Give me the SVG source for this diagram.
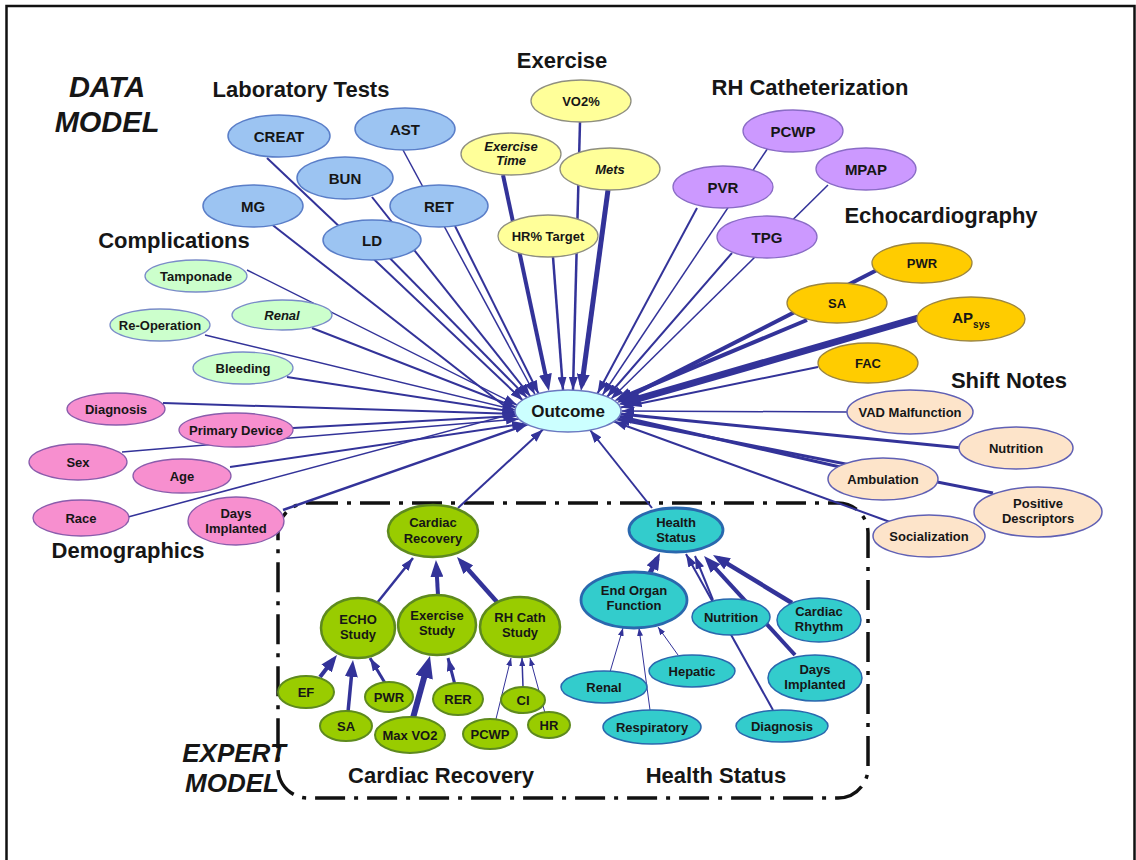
<svg xmlns="http://www.w3.org/2000/svg" width="1136" height="860" viewBox="0 0 1136 860">
<style>
  text { font-family: "Liberation Sans", Arial, sans-serif; font-weight: bold; fill: #161616; text-anchor: middle; }
  .head { font-size: 22px; }
  .big { font-size: 29px; font-style: italic; }
  .exp { font-size: 26px; font-style: italic; }
  .s13 { font-size: 13px; }
  .s15 { font-size: 15px; }
  .it { font-style: italic; }
  .c { fill: none; stroke: #333399; stroke-linecap: butt; }
  .lab ellipse { fill: #9cc4f2; stroke: #5a7ec8; stroke-width: 1.5; }
  .ex ellipse { fill: #ffff99; stroke: #8f8f80; stroke-width: 1.3; }
  .rh ellipse { fill: #cc99ff; stroke: #8a6cc6; stroke-width: 1.3; }
  .echo ellipse { fill: #ffcc00; stroke: #9c8640; stroke-width: 1.3; }
  .sn ellipse { fill: #fde4ca; stroke: #6060b4; stroke-width: 1.5; }
  .cx ellipse { fill: #ccffcc; stroke: #7a8cc8; stroke-width: 1.3; }
  .dm ellipse { fill: #f78fcf; stroke: #8a5cac; stroke-width: 1.3; }
  .oc ellipse { fill: #ccffff; stroke: #6a78c0; stroke-width: 1.5; }
  .cr ellipse { fill: #99cc00; stroke: #5e8a1e; stroke-width: 2; }
  .cr.main ellipse { stroke-width: 2.5; }
  .hs ellipse { fill: #33cccc; stroke: #2a68ae; stroke-width: 1.5; }
  .hs.main ellipse { stroke-width: 2.8; }
</style>
<defs>
  <marker id="ah-sm" markerUnits="userSpaceOnUse" markerWidth="8" markerHeight="6" refX="8" refY="3" orient="auto"><path d="M0,0 L8,3 L0,6 z" fill="#333399"/></marker>
  <marker id="ah-md" markerUnits="userSpaceOnUse" markerWidth="13" markerHeight="9" refX="13" refY="4.5" orient="auto"><path d="M0,0 L13,4.5 L0,9 z" fill="#333399"/></marker>
  <marker id="ah-lg" markerUnits="userSpaceOnUse" markerWidth="17" markerHeight="13" refX="11" refY="6.5" orient="auto"><path d="M0,0 L17,6.5 L0,13 z" fill="#333399"/></marker>
  <marker id="ah-xl" markerUnits="userSpaceOnUse" markerWidth="22" markerHeight="18" refX="13" refY="9" orient="auto"><path d="M0,0 L22,9 L0,18 z" fill="#333399"/></marker>
</defs>

<rect x="0" y="0" width="1136" height="860" fill="#ffffff"/>
<!-- page frame (bottom edge runs off the page) -->
<rect x="6.5" y="6" width="1128" height="900" fill="none" stroke="#111" stroke-width="2.5"/>

<!-- headings -->
<g id="titles">
  <text class="big" x="107" y="97">DATA</text>
  <text class="big" x="107" y="132">MODEL</text>
  <text class="head" x="301" y="97">Laboratory Tests</text>
  <text class="head" x="562" y="68">Exercise</text>
  <text class="head" x="810" y="95">RH Catheterization</text>
  <text class="head" x="941" y="223">Echocardiography</text>
  <text class="head" x="174" y="248">Complications</text>
  <text class="head" x="1009" y="388">Shift Notes</text>
  <text class="head" x="128" y="558">Demographics</text>
  <text class="exp" x="234" y="762">EXPERT</text>
  <text class="exp" x="232" y="792">MODEL</text>
  <text class="head" x="441" y="783">Cardiac Recovery</text>
  <text class="head" x="716" y="783">Health Status</text>
</g>

<!-- expert model boundary -->
<path id="expert-box" d="M308,503 H838 A30,30 0 0 1 868,533 V768 A30,30 0 0 1 838,798 H308 A30,30 0 0 1 278,768 V533 A30,30 0 0 1 308,503 Z" fill="none" stroke="#111" stroke-width="3.5" stroke-dasharray="30 9 4 9"/>

<g id="connectors">
  <!-- laboratory -->
  <path class="c" stroke-width="2" marker-end="url(#ah-md)" d="M267,158 L523,400.5"/>
  <path class="c" stroke-width="2" marker-end="url(#ah-md)" d="M270,223 L516,415"/>
  <path class="c" stroke-width="2" marker-end="url(#ah-md)" d="M372,197 L530.5,396.5"/>
  <path class="c" stroke-width="1.5" marker-end="url(#ah-md)" d="M403,150 L535,394.5"/>
  <path class="c" stroke-width="2" marker-end="url(#ah-md)" d="M455,226 L538.5,393.5"/>
  <path class="c" stroke-width="2" marker-end="url(#ah-md)" d="M372,240 L527,397.5"/>
  <!-- exercise -->
  <path class="c" stroke-width="4" marker-end="url(#ah-lg)" d="M503,175 L547.7,385.1"/>
  <path class="c" stroke-width="2.5" marker-end="url(#ah-md)" d="M553,257 L563,390"/>
  <path class="c" stroke-width="2.5" marker-end="url(#ah-md)" d="M580,122 L573,390"/>
  <path class="c" stroke-width="5" marker-end="url(#ah-lg)" d="M608,190 L581.8,385.1"/>
  <!-- RH catheterization -->
  <path class="c" stroke-width="1.5" marker-end="url(#ah-md)" d="M770,145 L602.5,395"/>
  <path class="c" stroke-width="2" marker-end="url(#ah-md)" d="M697,208 L597.5,393.5"/>
  <path class="c" stroke-width="1.5" marker-end="url(#ah-md)" d="M828,185 L611,399"/>
  <path class="c" stroke-width="2" marker-end="url(#ah-md)" d="M732,253 L607,397"/>
  <!-- echocardiography -->
  <path class="c" stroke-width="4" marker-end="url(#ah-lg)" d="M877,270 L622.3,399.9"/>
  <path class="c" stroke-width="4" marker-end="url(#ah-lg)" d="M807,320 L620,398.4"/>
  <path class="c" stroke-width="7" marker-end="url(#ah-xl)" d="M918,318 L627.3,402"/>
  <path class="c" stroke-width="2" marker-end="url(#ah-md)" d="M818,367 L620.5,407.5"/>
  <!-- shift notes -->
  <path class="c" stroke-width="1.5" marker-end="url(#ah-md)" d="M847,412 L621.5,411"/>
  <path class="c" stroke-width="3" marker-end="url(#ah-md)" d="M962,448 L620.5,414"/>
  <path class="c" stroke-width="3" marker-end="url(#ah-md)" d="M840,467 L619.5,416.5"/>
  <path class="c" stroke-width="3" marker-end="url(#ah-md)" d="M993,493 L617,419"/>
  <path class="c" stroke-width="2" marker-end="url(#ah-md)" d="M890,522 L614,421.5"/>
  <!-- complications -->
  <path class="c" stroke-width="1.5" marker-end="url(#ah-md)" d="M247,270 L517,405"/>
  <path class="c" stroke-width="2" marker-end="url(#ah-md)" d="M312,328 L516,407.5"/>
  <path class="c" stroke-width="1.5" marker-end="url(#ah-md)" d="M205,335 L515.3,410"/>
  <path class="c" stroke-width="2" marker-end="url(#ah-md)" d="M287,377 L515.3,412"/>
  <!-- demographics -->
  <path class="c" stroke-width="2" marker-end="url(#ah-md)" d="M163,403 L515.5,414"/>
  <path class="c" stroke-width="2" marker-end="url(#ah-md)" d="M293,428 L516.3,416"/>
  <path class="c" stroke-width="1.5" marker-end="url(#ah-md)" d="M122,452 L519,419"/>
  <path class="c" stroke-width="2" marker-end="url(#ah-md)" d="M230,467 L525,423.5"/>
  <path class="c" stroke-width="1.5" marker-end="url(#ah-md)" d="M128,517 L515.5,413"/>
  <path class="c" stroke-width="2.5" marker-end="url(#ah-md)" d="M283,510 L527.5,424.4"/>
  <!-- expert model into outcome -->
  <path class="c" stroke-width="2" marker-end="url(#ah-md)" d="M458,508 L543,429.5"/>
  <path class="c" stroke-width="2" marker-end="url(#ah-md)" d="M652,508 L590,430"/>
  <!-- cardiac recovery sub-model -->
  <path class="c" stroke-width="2.5" marker-end="url(#ah-md)" d="M377,603 L413,558"/>
  <path class="c" stroke-width="4" marker-end="url(#ah-lg)" d="M438,595 L436.3,566"/>
  <path class="c" stroke-width="4.5" marker-end="url(#ah-lg)" d="M497,602 L461,561.5"/>
  <path class="c" stroke-width="4" marker-end="url(#ah-lg)" d="M320,677 L333.3,659.7"/>
  <path class="c" stroke-width="3.5" marker-end="url(#ah-lg)" d="M348,712 L352.4,666"/>
  <path class="c" stroke-width="3" marker-end="url(#ah-md)" d="M385,683 L370,658"/>
  <path class="c" stroke-width="6" marker-end="url(#ah-xl)" d="M413,718 L427.6,664.7"/>
  <path class="c" stroke-width="3" marker-end="url(#ah-md)" d="M455,685 L448,658"/>
  <path class="c" stroke-width="1" marker-end="url(#ah-sm)" d="M495,723 L511,658"/>
  <path class="c" stroke-width="1.5" marker-end="url(#ah-sm)" d="M523,687 L522,658"/>
  <path class="c" stroke-width="1" marker-end="url(#ah-sm)" d="M545,713 L530,658"/>
  <!-- health status sub-model -->
  <path class="c" stroke-width="5" marker-end="url(#ah-lg)" d="M650,573 L657.3,558.4"/>
  <path class="c" stroke-width="2" marker-end="url(#ah-md)" d="M713,600 L695,556"/>
  <path class="c" stroke-width="2" marker-end="url(#ah-md)" d="M773,710 L686,554"/>
  <path class="c" stroke-width="4" marker-end="url(#ah-lg)" d="M795,655 L708.1,560.4"/>
  <path class="c" stroke-width="4.5" marker-end="url(#ah-lg)" d="M792,603 L718.1,558.1"/>
  <path class="c" stroke-width="1" marker-end="url(#ah-sm)" d="M610,672 L623,628"/>
  <path class="c" stroke-width="1" marker-end="url(#ah-sm)" d="M650,710 L639,628"/>
  <path class="c" stroke-width="1" marker-end="url(#ah-sm)" d="M678,655 L658,627"/>
</g>

<!-- laboratory tests -->
<g id="n-creat" class="lab"><ellipse cx="279" cy="136" rx="51" ry="21"/><text class="s15" x="279" y="141.5">CREAT</text></g>
<g id="n-ast" class="lab"><ellipse cx="405" cy="129" rx="50" ry="21"/><text class="s15" x="405" y="134.5">AST</text></g>
<g id="n-bun" class="lab"><ellipse cx="345" cy="178" rx="48" ry="21"/><text class="s15" x="345" y="183.5">BUN</text></g>
<g id="n-mg" class="lab"><ellipse cx="253" cy="206" rx="50" ry="21"/><text class="s15" x="253" y="211.5">MG</text></g>
<g id="n-ret" class="lab"><ellipse cx="439" cy="206" rx="49" ry="21"/><text class="s15" x="439" y="211.5">RET</text></g>
<g id="n-ld" class="lab"><ellipse cx="372" cy="240" rx="49" ry="20"/><text class="s15" x="372" y="245.5">LD</text></g>

<!-- exercise -->
<g id="n-vo2pct" class="ex"><ellipse cx="581" cy="101" rx="50" ry="21"/><text class="s13" x="581" y="105.5">VO2%</text></g>
<g id="n-extime" class="ex"><ellipse cx="511" cy="154" rx="50" ry="21"/><text class="s13 it" x="511" y="151">Exercise</text><text class="s13 it" x="511" y="165">Time</text></g>
<g id="n-mets" class="ex"><ellipse cx="610" cy="169" rx="50" ry="21"/><text class="s13 it" x="610" y="173.5">Mets</text></g>
<g id="n-hrtarget" class="ex"><ellipse cx="548" cy="236" rx="50" ry="21"/><text class="s13" x="548" y="240.5">HR% Target</text></g>

<!-- RH catheterization -->
<g id="n-pcwp" class="rh"><ellipse cx="793" cy="131" rx="50" ry="21"/><text class="s15" x="793" y="136.5">PCWP</text></g>
<g id="n-mpap" class="rh"><ellipse cx="866" cy="169" rx="50" ry="21"/><text class="s15" x="866" y="174.5">MPAP</text></g>
<g id="n-pvr" class="rh"><ellipse cx="723" cy="187" rx="50" ry="21"/><text class="s15" x="723" y="192.5">PVR</text></g>
<g id="n-tpg" class="rh"><ellipse cx="767" cy="237" rx="50" ry="21"/><text class="s15" x="767" y="242.5">TPG</text></g>

<!-- echocardiography -->
<g id="n-pwr" class="echo"><ellipse cx="922" cy="263" rx="50" ry="20"/><text class="s13" x="922" y="267.5">PWR</text></g>
<g id="n-sa" class="echo"><ellipse cx="837" cy="303" rx="50" ry="20"/><text class="s13" x="837" y="307.5">SA</text></g>
<g id="n-apsys" class="echo"><ellipse cx="971" cy="319" rx="54" ry="22"/><text x="971" y="323" style="font-size:15px">AP<tspan style="font-size:10px" dy="5">sys</tspan></text></g>
<g id="n-fac" class="echo"><ellipse cx="868" cy="363" rx="50" ry="20"/><text class="s13" x="868" y="367.5">FAC</text></g>

<!-- shift notes -->
<g id="n-vad" class="sn"><ellipse cx="910" cy="412" rx="63" ry="22"/><text class="s13" x="910" y="416.5">VAD Malfunction</text></g>
<g id="n-nutrition" class="sn"><ellipse cx="1016" cy="448" rx="57" ry="21"/><text class="s13" x="1016" y="452.5">Nutrition</text></g>
<g id="n-ambulation" class="sn"><ellipse cx="883" cy="479" rx="55" ry="21"/><text class="s13" x="883" y="483.5">Ambulation</text></g>
<g id="n-positive" class="sn"><ellipse cx="1038" cy="512" rx="64" ry="25"/><text class="s13" x="1038" y="508">Positive</text><text class="s13" x="1038" y="523">Descriptors</text></g>
<g id="n-socialization" class="sn"><ellipse cx="929" cy="536" rx="56" ry="21"/><text class="s13" x="929" y="540.5">Socialization</text></g>

<!-- complications -->
<g id="n-tamponade" class="cx"><ellipse cx="196" cy="276" rx="51" ry="16"/><text class="s13" x="196" y="280.5">Tamponade</text></g>
<g id="n-renal-c" class="cx"><ellipse cx="282" cy="315" rx="50" ry="15"/><text class="s13 it" x="282" y="319.5">Renal</text></g>
<g id="n-reoperation" class="cx"><ellipse cx="160" cy="325" rx="50" ry="16"/><text class="s13" x="160" y="329.5">Re-Operation</text></g>
<g id="n-bleeding" class="cx"><ellipse cx="243" cy="368" rx="50" ry="16"/><text class="s13" x="243" y="372.5">Bleeding</text></g>

<!-- demographics -->
<g id="n-diagnosis-d" class="dm"><ellipse cx="116" cy="409" rx="49" ry="16"/><text class="s13" x="116" y="413.5">Diagnosis</text></g>
<g id="n-device" class="dm"><ellipse cx="236" cy="430" rx="57" ry="17"/><text class="s13" x="236" y="434.5">Primary Device</text></g>
<g id="n-sex" class="dm"><ellipse cx="78" cy="462" rx="49" ry="18"/><text class="s13" x="78" y="466.5">Sex</text></g>
<g id="n-age" class="dm"><ellipse cx="182" cy="476" rx="49" ry="17"/><text class="s13" x="182" y="480.5">Age</text></g>
<g id="n-race" class="dm"><ellipse cx="81" cy="518" rx="48" ry="18"/><text class="s13" x="81" y="522.5">Race</text></g>
<g id="n-days-d" class="dm"><ellipse cx="236" cy="521" rx="48" ry="24"/><text class="s13" x="236" y="518">Days</text><text class="s13" x="236" y="533">Implanted</text></g>

<!-- outcome -->
<g id="n-outcome" class="oc"><ellipse cx="568" cy="411" rx="53" ry="21"/><text x="568" y="417" style="font-size:17px">Outcome</text></g>

<!-- cardiac recovery sub-model -->
<g id="n-cardiac" class="cr main"><ellipse cx="433" cy="531" rx="45" ry="26"/><text class="s13" x="433" y="527">Cardiac</text><text class="s13" x="433" y="543">Recovery</text></g>
<g id="n-echo" class="cr main"><ellipse cx="358" cy="628" rx="37" ry="30"/><text class="s13" x="358" y="624">ECHO</text><text class="s13" x="358" y="639">Study</text></g>
<g id="n-exstudy" class="cr main"><ellipse cx="437" cy="625" rx="39" ry="30"/><text class="s13" x="437" y="620">Exercise</text><text class="s13" x="437" y="635">Study</text></g>
<g id="n-rhstudy" class="cr main"><ellipse cx="520" cy="627" rx="40" ry="30"/><text class="s13" x="520" y="622">RH Cath</text><text class="s13" x="520" y="637">Study</text></g>
<g id="n-ef" class="cr"><ellipse cx="306" cy="692" rx="28" ry="16"/><text class="s13" x="306" y="696.5">EF</text></g>
<g id="n-sa-x" class="cr"><ellipse cx="346" cy="726" rx="26" ry="15"/><text class="s13" x="346" y="730.5">SA</text></g>
<g id="n-pwr-x" class="cr"><ellipse cx="389" cy="697" rx="24" ry="15"/><text class="s13" x="389" y="701.5">PWR</text></g>
<g id="n-maxvo2" class="cr"><ellipse cx="410" cy="735" rx="35" ry="18"/><text class="s13" x="410" y="739.5">Max VO2</text></g>
<g id="n-rer" class="cr"><ellipse cx="458" cy="699" rx="25" ry="16"/><text class="s13" x="458" y="703.5">RER</text></g>
<g id="n-ci" class="cr"><ellipse cx="523" cy="700" rx="22" ry="13"/><text class="s13" x="523" y="704.5">CI</text></g>
<g id="n-pcwp-x" class="cr"><ellipse cx="490" cy="734" rx="27" ry="15"/><text class="s13" x="490" y="738.5">PCWP</text></g>
<g id="n-hr" class="cr"><ellipse cx="549" cy="725" rx="21" ry="13"/><text class="s13" x="549" y="729.5">HR</text></g>

<!-- health status sub-model -->
<g id="n-health" class="hs main"><ellipse cx="676" cy="530" rx="47" ry="22"/><text class="s13" x="676" y="527">Health</text><text class="s13" x="676" y="542">Status</text></g>
<g id="n-endorgan" class="hs main"><ellipse cx="634" cy="600" rx="53" ry="28"/><text class="s13" x="634" y="595">End Organ</text><text class="s13" x="634" y="610">Function</text></g>
<g id="n-nutrition-x" class="hs"><ellipse cx="731" cy="617" rx="39" ry="18"/><text class="s13" x="731" y="621.5">Nutrition</text></g>
<g id="n-rhythm" class="hs"><ellipse cx="819" cy="620" rx="42" ry="22"/><text class="s13" x="819" y="616">Cardiac</text><text class="s13" x="819" y="631">Rhythm</text></g>
<g id="n-hepatic" class="hs"><ellipse cx="692" cy="671" rx="43" ry="16"/><text class="s13" x="692" y="675.5">Hepatic</text></g>
<g id="n-renal-x" class="hs"><ellipse cx="604" cy="687" rx="43" ry="16"/><text class="s13" x="604" y="691.5">Renal</text></g>
<g id="n-days-x" class="hs"><ellipse cx="815" cy="678" rx="47" ry="23"/><text class="s13" x="815" y="674">Days</text><text class="s13" x="815" y="689">Implanted</text></g>
<g id="n-respiratory" class="hs"><ellipse cx="652" cy="727" rx="49" ry="17"/><text class="s13" x="652" y="731.5">Respiratory</text></g>
<g id="n-diagnosis-x" class="hs"><ellipse cx="782" cy="726" rx="46" ry="16"/><text class="s13" x="782" y="730.5">Diagnosis</text></g>
</svg>
